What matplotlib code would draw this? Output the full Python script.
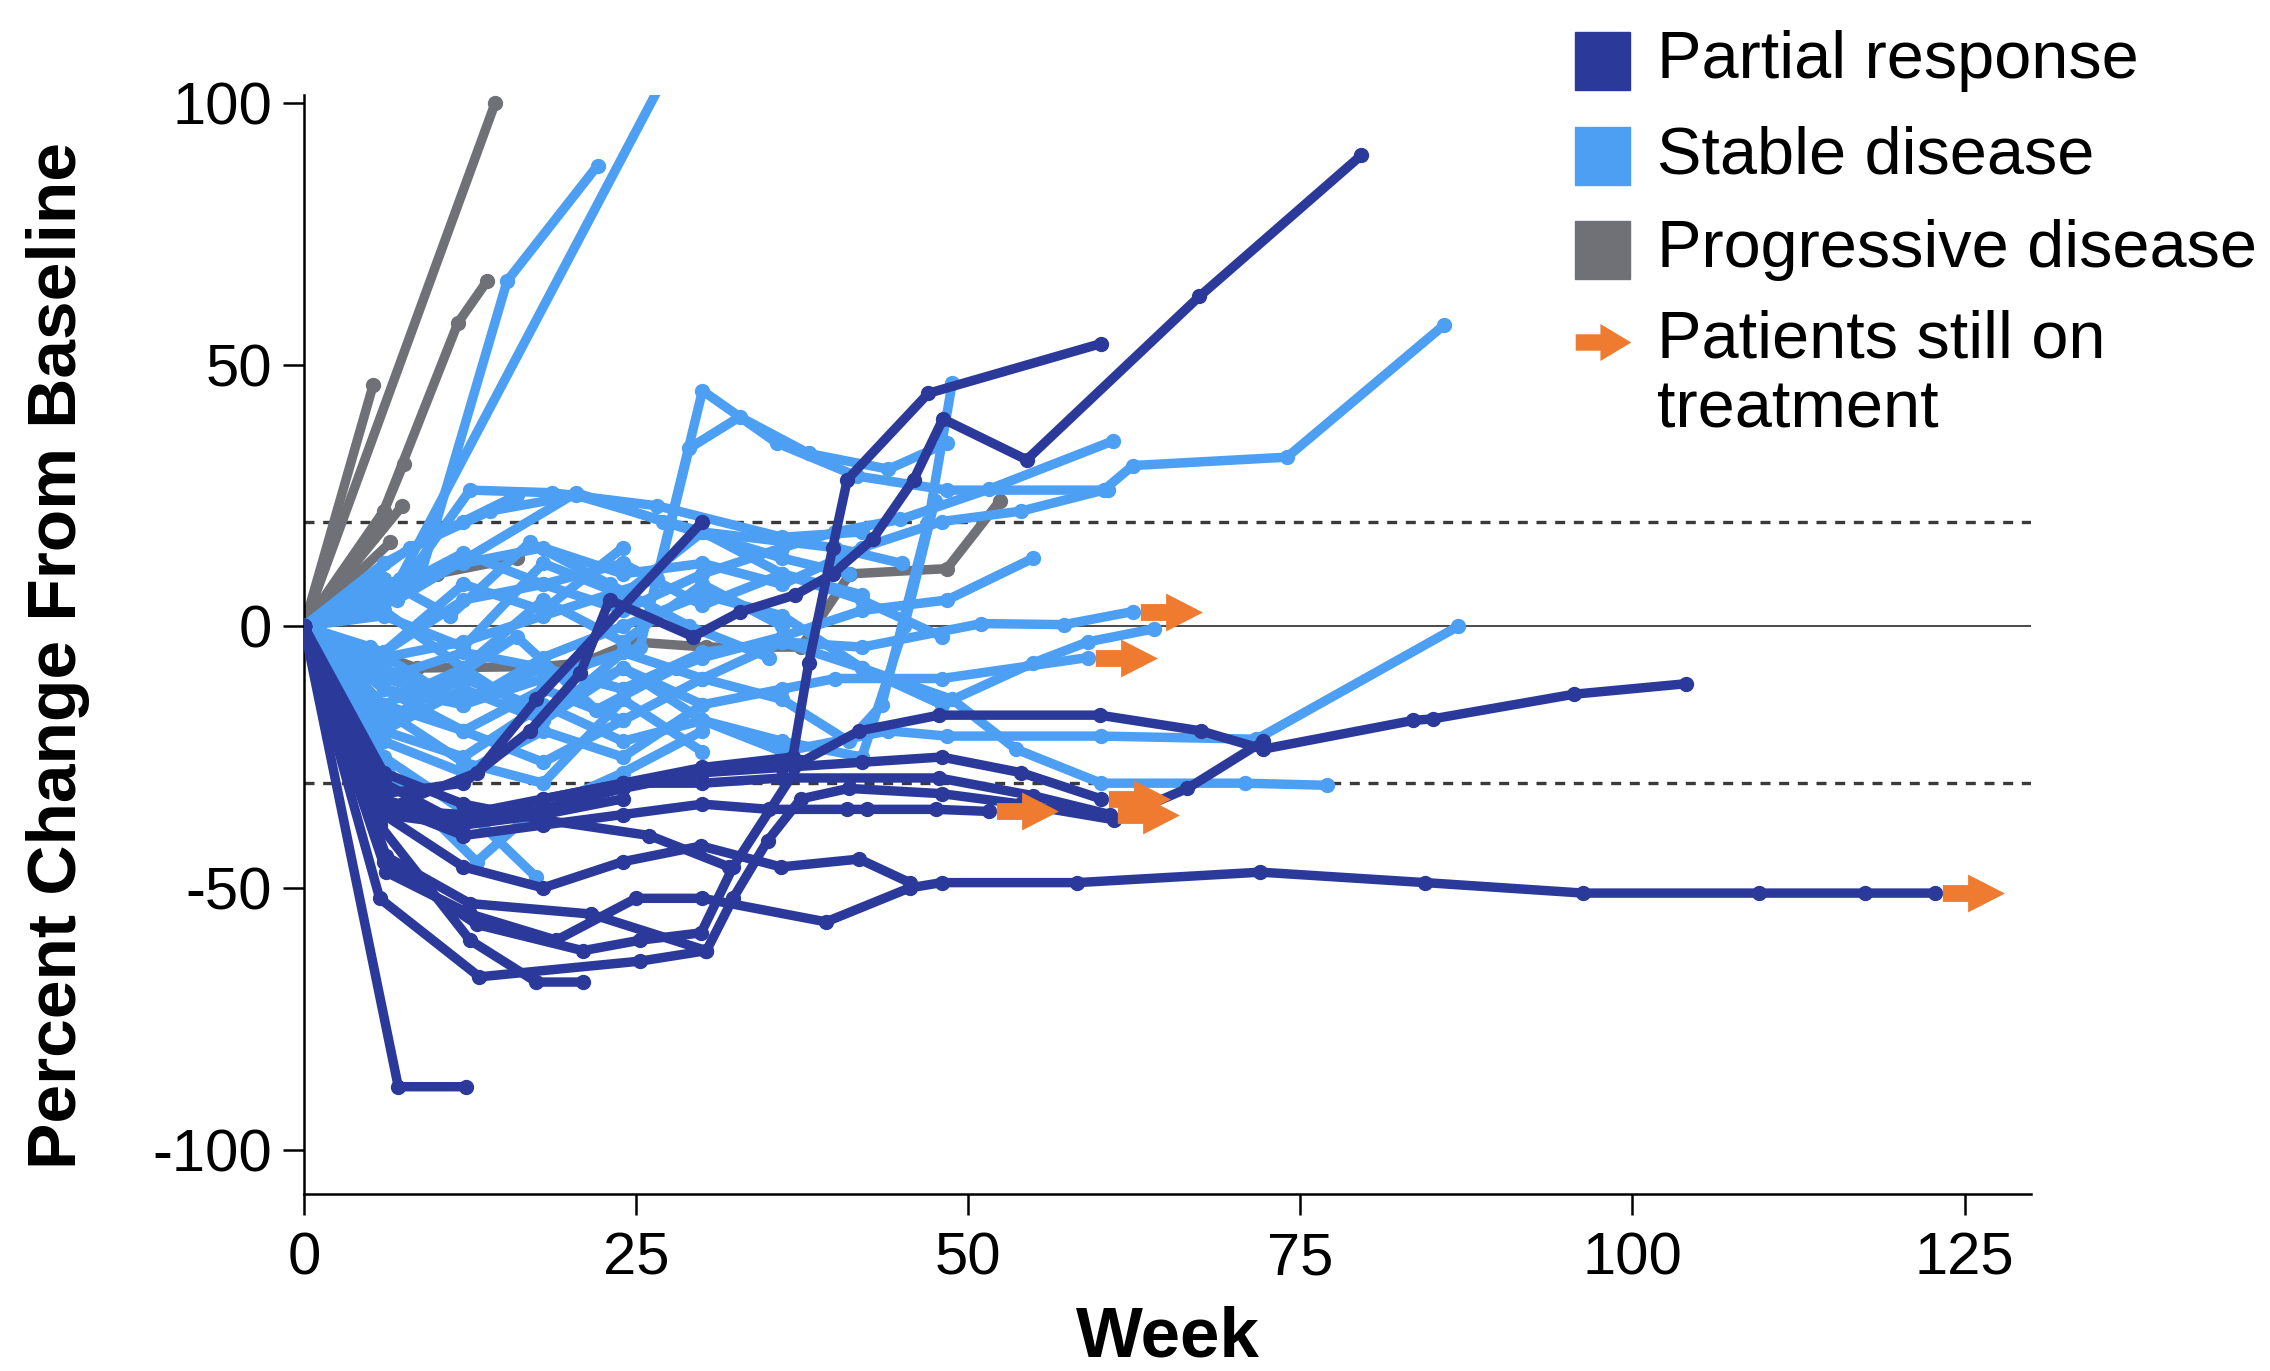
import matplotlib
matplotlib.use('Agg')
import matplotlib.pyplot as plt
from matplotlib.path import Path
from matplotlib.patches import Rectangle
from matplotlib.lines import Line2D

plt.rcParams['font.family'] = ['Liberation Sans', 'DejaVu Sans']
plt.rcParams['axes.unicode_minus'] = False

# ---------------- data (week, % change from baseline) ----------------
# partial response
pr_weeks = [
    [0, 6.2, 12.5, 19, 25, 30, 39.3, 45.6, 48, 58.2, 72, 84.4, 96.3, 109.5, 117.5, 122.8],
    [0, 6, 12, 17, 20.8, 23, 29.3, 32.8, 37, 39.8, 42.8, 45.9, 48.1, 54.4, 67.4, 79.6],
    [0, 6, 13, 17.5, 30],
    [0, 6, 12, 18, 24, 30, 36.8, 38, 39.8, 40.9, 47, 60],
    [0, 7.1, 12.2],
    [0, 5.7, 12.5, 17.5, 21],
    [0, 5.7, 13.2, 25.3, 30.3, 32.3, 34.9, 37.4, 41, 48, 54, 61, 66.5, 72.2],
    [0, 6, 13, 21, 25.3, 29.9, 32.3, 37.4, 41.8, 47.8, 59.9, 67.5, 72.2, 83.5, 85, 95.6, 104],
    [0, 6, 12, 18, 24, 29.9, 35.9, 41.8, 45.6],
    [0, 6, 12, 18, 24, 30, 35, 40.9, 42.4, 47.6, 51.6],
    [0, 6, 12, 18, 24, 30, 36, 47.8, 54.9, 60.7],
    [0, 6, 12, 18, 24, 30, 36, 42, 48, 54, 60],
    [0, 6, 12, 18, 24],
    [0, 6.2, 12.5, 21.6, 30.3],
    [0, 6, 12, 18, 26, 32],
]
pr_pct = [
    [0, -47, -55, -60, -52, -52, -56.5, -50, -49, -49, -47, -49, -51, -51, -51, -51],
    [0, -32, -30, -20, -9, 5, -2, 2.7, 6, 10, 16.6, 28, 39.6, 31.8, 63, 90],
    [0, -35, -28, -14, 20],
    [0, -36, -38, -33, -30, -27, -25, -7, 15, 28, 44.5, 54],
    [0, -88, -88],
    [0, -38, -60, -68, -68],
    [0, -52, -67, -64, -62, -52, -41, -33, -31, -32, -34, -37, -31, -22],
    [0, -45, -57, -62, -60, -58.6, -46, -26, -20, -17, -17, -20, -23.5, -18, -17.7, -13, -11],
    [0, -36, -46, -50, -45, -42, -46, -44.5, -49],
    [0, -34, -40, -38, -36, -34, -35, -35, -35, -35, -35.4],
    [0, -35, -36, -33, -30, -30, -29, -29, -32.4, -36],
    [0, -33, -38, -35, -31, -28, -27, -26, -25, -28, -33],
    [0, -30, -38, -36, -33],
    [0, -44, -53, -55, -62],
    [0, -28, -34, -37, -40, -46],
]
pr_ongoing = [0, 9, 10, 11]

# stable disease
sd_weeks = [
    [0, 7.2, 28.2],
    [0, 8.7, 15.3, 22.1],
    [0, 6, 12, 18, 24, 30, 36, 42, 48, 54, 60.2, 62.4, 74, 85.8],
    [0, 6, 12, 18, 24, 30, 36, 40, 44.9, 51.6, 60.9],
    [0, 6, 12, 18, 25.3, 30, 35.6, 41.6, 48.4, 60.5],
    [0, 6, 12, 18, 26.6, 29, 32.8, 38, 44, 48.4],
    [0, 6, 12, 18, 24, 30, 36, 42, 48.4, 54.9],
    [0, 6, 12, 18, 24, 30, 36, 41, 43.5, 47, 48.8],
    [0, 6, 12, 18, 24, 30, 36, 42, 45.2, 47.5],
    [0, 6, 12, 18, 24, 30, 36, 42, 51, 57.2, 62.4],
    [0, 6, 12, 18, 24, 30, 36, 42, 48, 54.9, 59, 64],
    [0, 6, 12, 18, 24, 30, 36, 40, 48, 59],
    [0, 6, 12, 18, 24, 30, 36, 44, 48.4, 60, 71.7, 86.9],
    [0, 6, 12, 18, 24, 30, 36, 42, 48.8, 53.6, 60, 70.8, 77],
    [0, 6, 13, 17.5],
    [0, 8, 12.5, 18.7, 26.6, 36, 42],
    [0, 7, 20.5, 27, 36, 41],
    [0, 8, 14, 20.5, 30, 40, 45],
    [0, 6, 12, 16],
    [0, 6, 12, 18, 24],
    [0, 7, 13, 17, 24, 30],
    [0, 6, 12, 18, 24, 30, 36],
    [0, 6, 12, 18, 24, 30],
    [0, 6, 12, 18, 24, 30, 36, 42],
    [0, 6, 12, 18, 24],
    [0, 6, 12, 18, 24, 30, 36, 42, 48],
    [0, 5, 10, 16, 22, 28],
    [0, 6, 11, 17, 23, 29, 35],
    [0, 6, 12, 18, 24, 30],
]
sd_pct = [
    [0, 9, 110],
    [0, 9, 66, 88],
    [0, 8, 12, 15, 10, 12, 8, 15, 20, 22, 26, 30.7, 32.3, 57.5],
    [0, -5, 5, 8, 3, 10, 15, 18, 20.4, 26.2, 35.4],
    [0, -12, -15, -10, -4, 45, 35, 28.7, 26, 26],
    [0, -6, -3, 2, 9, 34, 40, 33, 30, 35],
    [0, -10, -14, -8, -12, -6, -2, 3, 5, 13],
    [0, -15, -20, -12, -18, -10, -14, -22, -15, 20, 46.5],
    [0, -18, -10, -16, -8, -18, -22, -25, 0, 24],
    [0, -10, -5, -8, -12, -5, -3, -4, 0.5, 0.3, 2.8],
    [0, -8, -15, -6, 0, 6, 2, -8, -15, -7, -3, -0.5],
    [0, -20, -12, -18, -8, -15, -12, -10, -10, -6],
    [0, -20, -25, -15, -22, -18, -24, -20, -21, -21, -21.6, 0],
    [0, -15, -8, -18, -5, -10, -3, -8, -14, -23.5, -30, -30, -30.4],
    [0, -25, -37, -48],
    [0, 10, 26, 25.5, 23, 17, 18],
    [0, 5, 25.5, 20, 13, 10],
    [0, 15, 22, 25, 18, 15, 12],
    [0, 12, 20, 25],
    [0, -5, 8, 3, 15],
    [0, -30, -45, -36, -28, -20],
    [0, 3, -8, 5, -3, 8, 0],
    [0, -22, -28, -20, -25, -15],
    [0, 6, 14, 8, 12, 4, 10, 6],
    [0, -12, -20, -26, -18],
    [0, 2, -4, 12, 6, 18, 10, 5, -2],
    [0, -4, -12, -2, -16, -8],
    [0, 9, 2, 16, 8, 0, -6],
    [0, -16, -26, -30, -14, -24],
]
sd_ongoing = [9, 11]

# progressive disease
pd_weeks = [
    [0, 5.2],
    [0, 14.4],
    [0, 6, 11.6, 13.8],
    [0, 7.4],
    [0, 5.7, 7.5],
    [0, 4, 6.5],
    [0, 8.5, 18, 21, 24.8, 30.3, 37.4, 41.1, 48.4, 52.4],
    [0, 7, 10, 16],
]
pd_pct = [
    [0, 46],
    [0, 100],
    [0, 22, 58, 66],
    [0, 23],
    [0, 20, 31],
    [0, 10, 16],
    [0, -8, -7.7, -7, -3, -4, -4, 10, 11, 24],
    [0, 7, 10, 13],
]

legend_labels = ['Partial response', 'Stable disease', 'Progressive disease',
                 'Patients still on\ntreatment']

C_PR = '#2B3A9A'
C_SD = '#4C9FF2'
C_PD = '#6F7177'
C_ARROW = '#EE7B30'

# block arrow marker, offset to the right of the last point
arrow_off = Path([(7, -8), (31, -8), (31, -18), (66, 0), (31, 18), (31, 8), (7, 8), (7, -8)],
                 [Path.MOVETO] + [Path.LINETO] * 6 + [Path.CLOSEPOLY])
arrow_ctr = Path([(-27, -8), (-3, -8), (-3, -18), (27, 0), (-3, 18), (-3, 8), (-27, 8), (-27, -8)],
                 [Path.MOVETO] + [Path.LINETO] * 6 + [Path.CLOSEPOLY])

fig = plt.figure(figsize=(22.7, 13.71), dpi=100)
ax = fig.add_axes([0.1339, 0.1291, 0.7608, 0.8016])

ax.axhline(0, color='#3a3a3a', lw=1.3, zorder=1)
ax.axhline(20, color='#3a3a3a', lw=2.4, ls=(0, (3, 2.6)), zorder=1)
ax.axhline(-30, color='#3a3a3a', lw=2.4, ls=(0, (3, 2.6)), zorder=1)

line_kw = dict(lw=6.8, marker='o', ms=10, solid_joinstyle='round', solid_capstyle='round')
for w, v in zip(pd_weeks, pd_pct):
    ax.plot(w, v, color=C_PD, zorder=2, **line_kw)
for w, v in zip(sd_weeks, sd_pct):
    ax.plot(w, v, color=C_SD, zorder=3, **line_kw)
for w, v in zip(pr_weeks, pr_pct):
    ax.plot(w, v, color=C_PR, zorder=4, **line_kw)

# arrows for patients still on treatment
for i in pr_ongoing:
    ax.plot(pr_weeks[i][-1], pr_pct[i][-1], marker=arrow_off, ms=100, color=C_ARROW,
            mew=0, ls='none', zorder=5)
for i in sd_ongoing:
    ax.plot(sd_weeks[i][-1], sd_pct[i][-1], marker=arrow_off, ms=100, color=C_ARROW,
            mew=0, ls='none', zorder=5)

ax.set_xlim(0, 130)
ax.set_ylim(-108.5, 101.5)
ax.set_xticks([0, 25, 50, 75, 100, 125])
ax.set_yticks([-100, -50, 0, 50, 100])
ax.spines['top'].set_visible(False)
ax.spines['right'].set_visible(False)
for s in ['left', 'bottom']:
    ax.spines[s].set_linewidth(1.8)
ax.tick_params(axis='both', labelsize=43, length=15, width=1.8, direction='out')
ax.tick_params(axis='y', pad=8)
ax.tick_params(axis='x', pad=12)

ax.set_xlabel('Week', fontsize=51, fontweight='bold')
ax.set_ylabel('Percent Change From Baseline', fontsize=50, fontweight='bold')
ax.xaxis.set_label_coords(0.5, -0.101)
ax.yaxis.set_label_coords(-0.124, 0.49)

# legend drawn in figure coordinates
sq_x, sq_w, sq_h = 0.694, 0.0242, 0.0423
txt_x = 0.730
rows_y = [0.9555, 0.8862, 0.8176]
cols = [C_PR, C_SD, C_PD]
for y, c, lab in zip(rows_y, cols, legend_labels[:3]):
    fig.patches.append(Rectangle((sq_x, y - sq_h / 2), sq_w, sq_h, color=c,
                                 transform=fig.transFigure, figure=fig))
    fig.text(txt_x, y, lab, fontsize=48, va='center', ha='left')
fig.add_artist(Line2D([sq_x + sq_w / 2], [0.7505], marker=arrow_ctr, ms=40, mew=0,
                      color=C_ARROW, ls='none', transform=fig.transFigure))
fig.text(txt_x, 0.7505 + 0.0235, legend_labels[3], fontsize=48, va='top', ha='left',
         linespacing=1.15)

fig.savefig('out.png', dpi=100)
